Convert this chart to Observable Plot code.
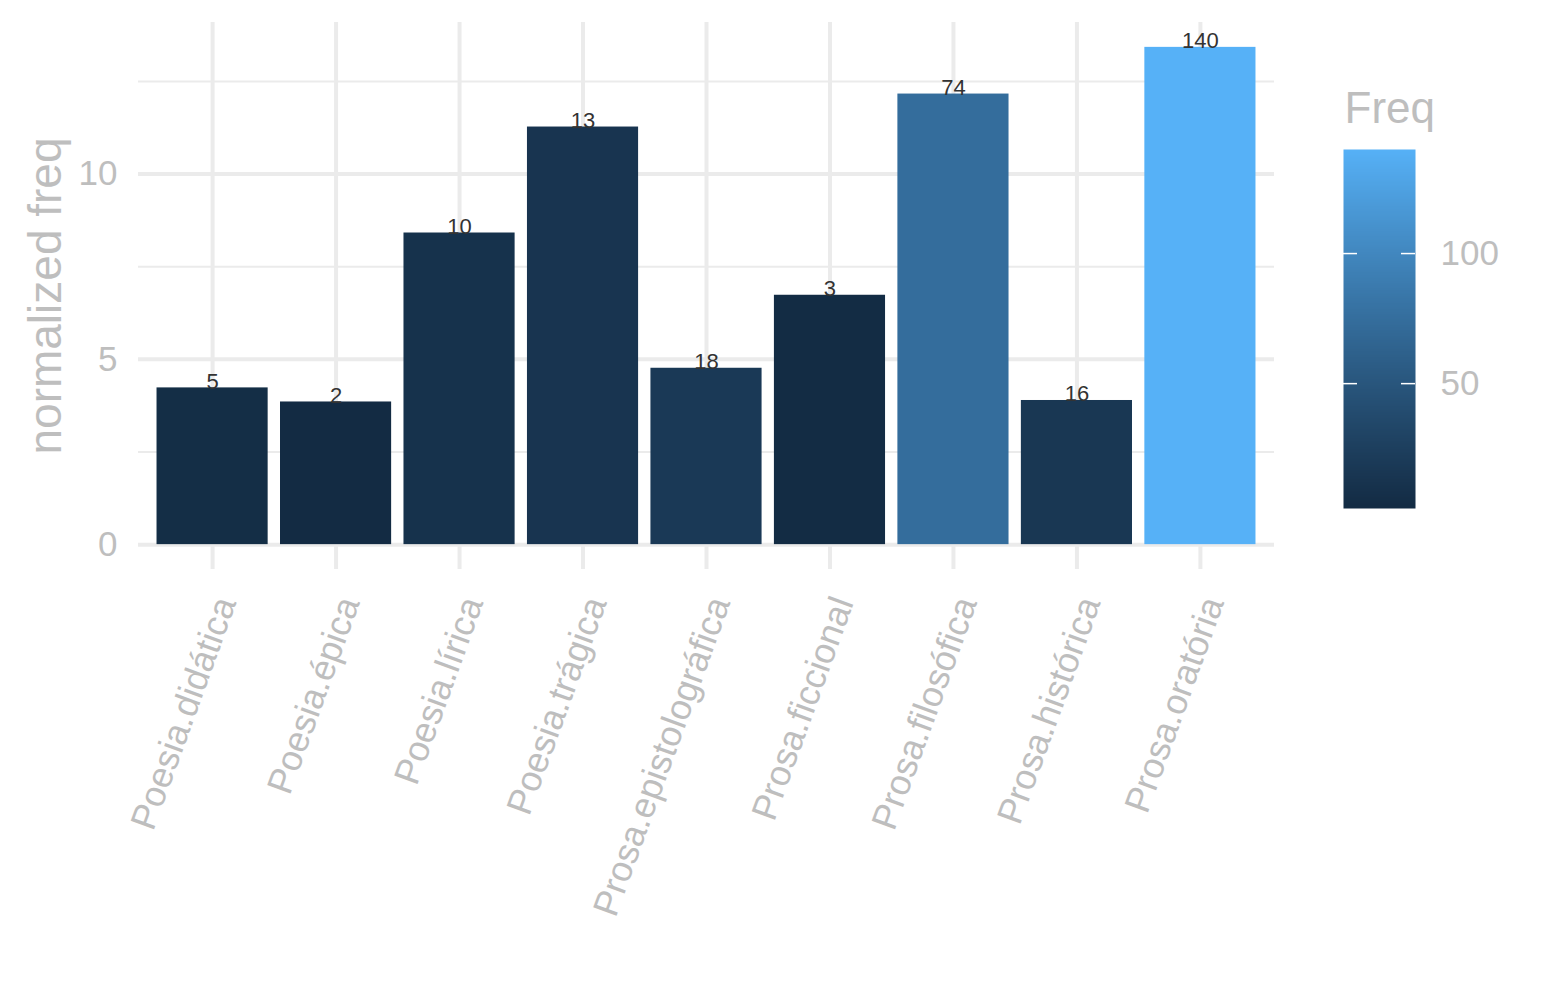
<!DOCTYPE html>
<html>
<head>
<meta charset="utf-8">
<script src="https://cdn.jsdelivr.net/npm/d3@7"></script>
<script src="https://cdn.jsdelivr.net/npm/@observablehq/plot@0.6"></script>
<style>
  html, body { margin: 0; padding: 0; background: #ffffff; }
  #wrap { position: relative; width: 1545px; height: 1000px; overflow: hidden; font-family: "Liberation Sans", Arial, Helvetica, sans-serif; }
  #main { position: absolute; left: 0; top: 0; }
  #legend { position: absolute; left: 1280px; top: 0; }
</style>
</head>
<body>
<div id="wrap"><div id="main"></div><div id="legend"></div></div>
<script>
// ---- data ----
const genres = ["Poesia.didática", "Poesia.épica", "Poesia.lírica", "Poesia.trágica",
  "Prosa.epistolográfica", "Prosa.ficcional", "Prosa.filosófica", "Prosa.histórica", "Prosa.oratória"];
const normFreq = [4.23, 3.85, 8.41, 11.27, 4.76, 6.73, 12.16, 3.89, 13.42];
const freq = [5, 2, 10, 13, 18, 3, 74, 16, 140];
const yMajorTicks = [0, 5, 10];
const yMinorTicks = [2.5, 7.5, 12.5];
const legendTicks = [50, 100];
const yTitle = "normalized freq";
const legendTitle = "Freq";

const data = genres.map((g, i) => ({genre: g, norm: normFreq[i], freq: freq[i]}));

const grey = "#BEBEBE";
const gridCol = "#EBEBEB";
const font = "'Liberation Sans', Arial, Helvetica, sans-serif";
const yMax = d3.max(normFreq);
const colorScale = {type: "linear", domain: d3.extent(freq), range: ["#132B43", "#56B1F7"], interpolate: d3.interpolateLab};

const main = Plot.plot({
  width: 1545, height: 1000,
  marginLeft: 138, marginRight: 271, marginTop: 22, marginBottom: 431,
  style: {fontFamily: font, background: "white"},
  x: {domain: genres, paddingInner: 0.1, paddingOuter: 0.15, round: false, axis: null},
  y: {domain: [-0.05 * yMax, 1.05 * yMax], axis: null},
  color: colorScale,
  marks: [
    Plot.ruleY(yMinorTicks, {stroke: gridCol, strokeWidth: 2}),
    Plot.ruleY(yMajorTicks, {stroke: gridCol, strokeWidth: 4}),
    Plot.ruleX(genres, {x: d => d, stroke: gridCol, strokeWidth: 4}),
    Plot.barY(data, {x: "genre", y: "norm", fill: "freq"}),
    Plot.text(data, {x: "genre", y: "norm", text: d => String(d.freq), lineAnchor: "bottom", fontSize: 22, fill: "#333333", dy: 1}),
    Plot.axisY(yMajorTicks, {tickSize: 0, tickPadding: 21, fontSize: 35, color: grey, label: null}),
    Plot.text([yTitle], {frameAnchor: "left", dx: -78, dy: 0, rotate: -90, lineAnchor: "bottom", textAnchor: "middle", fontSize: 46, fill: grey}),
    Plot.text(data, {x: "genre", text: "genre", frameAnchor: "bottom", dx: 24, dy: 33, rotate: -70, textAnchor: "end", lineAnchor: "bottom", fontSize: 36, fill: grey})
  ]
});
document.getElementById("main").appendChild(main);

const legend = Plot.plot({
  width: 265, height: 560,
  marginLeft: 63, marginRight: 130, marginTop: 149, marginBottom: 52,
  style: {fontFamily: font, background: "transparent", overflow: "visible"},
  x: {domain: [0, 1], axis: null},
  y: {domain: d3.extent(freq), axis: null},
  color: colorScale,
  marks: [
    Plot.raster({x1: 0, x2: 1, y1: d3.min(freq), y2: d3.max(freq), fill: (x, y) => y, width: 1, height: 300, imageRendering: "auto"}),
    Plot.tickY(legendTicks, {y: d => d, stroke: "white", strokeWidth: 1.5, insetRight: 58}),
    Plot.tickY(legendTicks, {y: d => d, stroke: "white", strokeWidth: 1.5, insetLeft: 58}),
    Plot.axisY(legendTicks, {anchor: "right", tickSize: 0, tickPadding: 25, fontSize: 35, color: grey, label: null}),
    Plot.text([legendTitle], {frameAnchor: "top-left", dx: 1, dy: -27, textAnchor: "start", lineAnchor: "bottom", fontSize: 44, fill: grey})
  ]
});
document.getElementById("legend").appendChild(legend);
</script>
</body>
</html>
